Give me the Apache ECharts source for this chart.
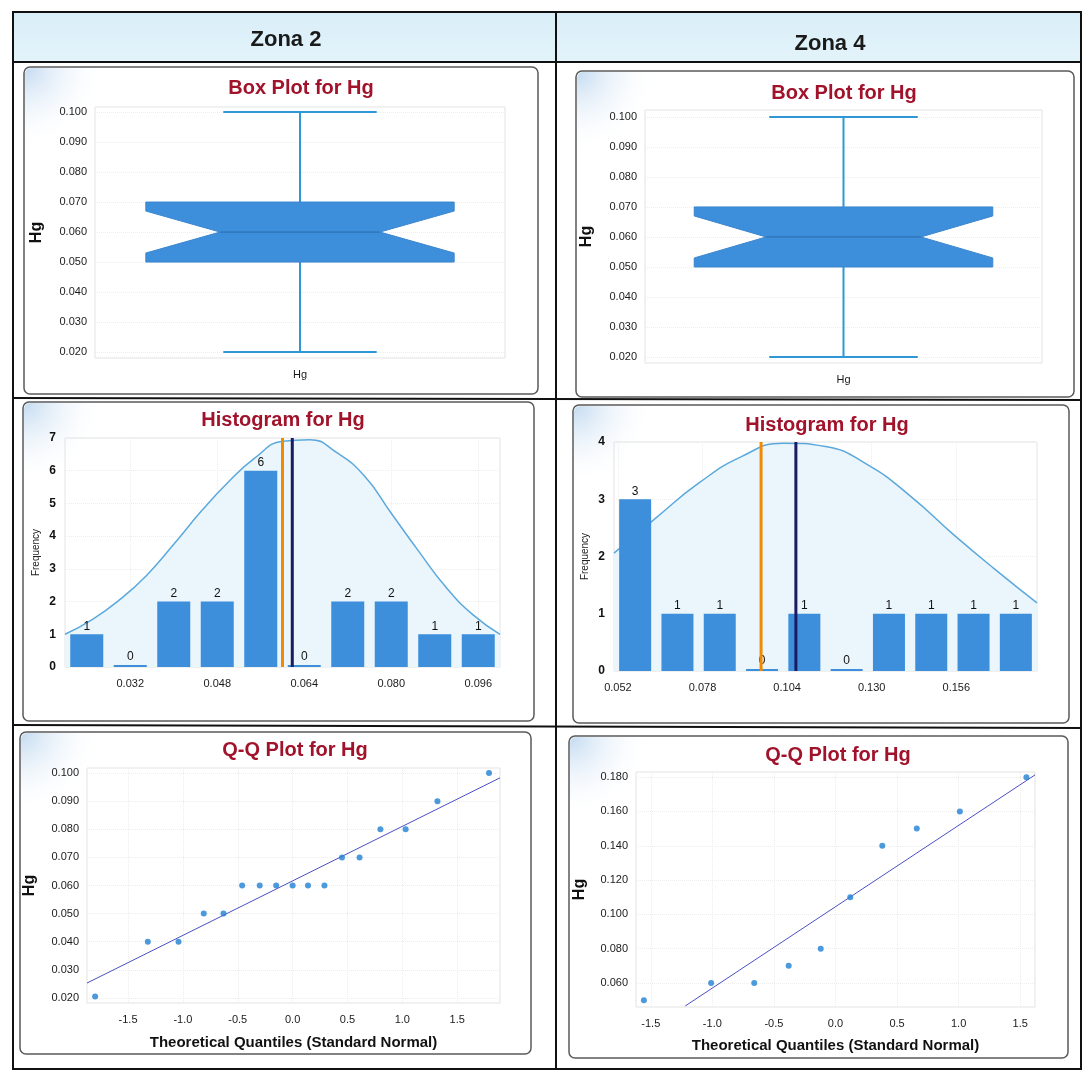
<!DOCTYPE html>
<html>
<head>
<meta charset="utf-8">
<script src="https://cdn.jsdelivr.net/npm/echarts@6/dist/echarts.min.js"></script>
<style>
  html, body { margin: 0; padding: 0; background: #fff; }
  #c { width: 1083px; height: 1074px; }
</style>
</head>
<body>
<div id="c"></div>
<script>
// ---------------- DATA ----------------
const zoneNames = ['Zona 2', 'Zona 4'];
const boxTitle = 'Box Plot for Hg';
const histTitle = 'Histogram for Hg';
const qqTitle = 'Q-Q Plot for Hg';

// box: [min, q1, notchLow, median, notchHigh, q3, max]
const boxZ2 = [0.020, 0.050, 0.053, 0.060, 0.067, 0.070, 0.100];
const boxZ4 = [0.020, 0.050, 0.053, 0.060, 0.067, 0.070, 0.100];
const boxTicks = [0.020, 0.030, 0.040, 0.050, 0.060, 0.070, 0.080, 0.090, 0.100];

// histogram Zona 2
const histZ2Centers = [0.024, 0.032, 0.040, 0.048, 0.056, 0.064, 0.072, 0.080, 0.088, 0.096];
const histZ2Counts  = [1, 0, 2, 2, 6, 0, 2, 2, 1, 1];
const histZ2Ticks   = [0.032, 0.048, 0.064, 0.080, 0.096];
const histZ2CurveX  = [0.020, 0.025, 0.030, 0.035, 0.040, 0.045, 0.050, 0.055, 0.060, 0.065, 0.070, 0.075, 0.080, 0.085, 0.090, 0.095, 0.100];
const histZ2CurveY  = [1.0, 1.45, 2.05, 2.8, 3.75, 4.75, 5.65, 6.4, 6.9, 6.95, 6.55, 5.85, 4.7, 3.55, 2.45, 1.6, 1.0];
const histZ2Median = 0.060;
const histZ2Mean = 0.0618;

// histogram Zona 4
const histZ4Centers = [0.0573, 0.0703, 0.0833, 0.0963, 0.1093, 0.1223, 0.1353, 0.1483, 0.1613, 0.1743];
const histZ4Counts  = [3, 1, 1, 0, 1, 0, 1, 1, 1, 1];
const histZ4Ticks   = [0.052, 0.078, 0.104, 0.130, 0.156];
const histZ4CurveX  = [0.0508, 0.0638, 0.0768, 0.0898, 0.1028, 0.1158, 0.1288, 0.1418, 0.1548, 0.1678, 0.1808];
const histZ4CurveY  = [2.06, 2.68, 3.28, 3.74, 3.98, 3.92, 3.6, 3.06, 2.4, 1.78, 1.19];
const histZ4Median = 0.096;
const histZ4Mean = 0.1067;

// Q-Q Zona 2
const qqZ2X = [-1.80, -1.32, -1.04, -0.81, -0.63, -0.46, -0.30, -0.15, 0.00, 0.14, 0.29, 0.45, 0.61, 0.80, 1.03, 1.32, 1.79];
const qqZ2Y = [0.0205, 0.040, 0.040, 0.050, 0.050, 0.060, 0.060, 0.060, 0.060, 0.060, 0.060, 0.070, 0.070, 0.080, 0.080, 0.090, 0.100];
const qqZ2Line = [[-1.874, 0.0253], [1.89, 0.0983]];
const qqZ2YTicks = [0.020, 0.030, 0.040, 0.050, 0.060, 0.070, 0.080, 0.090, 0.100];

// Q-Q Zona 4
const qqZ4X = [-1.556, -1.01, -0.66, -0.38, -0.12, 0.12, 0.38, 0.66, 1.01, 1.55];
const qqZ4Y = [0.050, 0.060, 0.060, 0.070, 0.080, 0.110, 0.140, 0.150, 0.160, 0.180];
const qqZ4Line = [[-1.22, 0.0466], [1.62, 0.1813]];
const qqZ4YTicks = [0.060, 0.080, 0.100, 0.120, 0.140, 0.160, 0.180];

const qqXTicks = [-1.5, -1.0, -0.5, 0.0, 0.5, 1.0, 1.5];

// ---------------- STYLE ----------------
function hasFont(name) {
  const c = document.createElement('canvas').getContext('2d');
  c.font = '20px monospace';
  const w1 = c.measureText('0.100 abcdefgHQ').width;
  c.font = '20px "' + name + '", monospace';
  return c.measureText('0.100 abcdefgHQ').width !== w1;
}
const NARROW = hasFont('Liberation Sans Narrow');
const tickFamily = NARROW ? '"Liberation Sans Narrow"' : '"Liberation Sans", Arial, sans-serif';
const tickSize = NARROW ? 13 : 11;
const MAIN = '"Liberation Sans", Arial, sans-serif';

const BLUE = '#3d8edb';
const WHISK = '#2e97d6';
const TITLE_RED = '#a1122b';
const GRIDLINE = { show: true, lineStyle: { color: '#ededed', type: 'dotted', width: 1 } };

const tickLabel = (extra) => Object.assign({
  fontFamily: tickFamily, fontSize: tickSize, color: '#1a1a1a'
}, extra || {});

const grids = [
  { left: 95,  top: 107, width: 410, height: 251 },
  { left: 645, top: 110, width: 397, height: 253 },
  { left: 65,  top: 438, width: 435, height: 229 },
  { left: 614, top: 442, width: 423, height: 229 },
  { left: 87,  top: 768, width: 413, height: 235 },
  { left: 636, top: 772, width: 399, height: 235 }
].map(g => Object.assign({ show: true, borderColor: '#e3e3e3', borderWidth: 1, containLabel: false }, g));

function fmt3(v) { return (+v).toFixed(3); }

function boxYAxis(gi, min, max) {
  return {
    type: 'value', gridIndex: gi, min: min, max: max,
    name: 'Hg', nameLocation: 'middle', nameGap: 50, nameRotate: 90,
    nameTextStyle: { fontFamily: MAIN, fontSize: 16, fontWeight: 'bold', color: '#111' },
    axisLine: { show: false }, axisTick: { show: false, customValues: boxTicks },
    axisLabel: tickLabel({ customValues: boxTicks, formatter: fmt3, margin: 8 }),
    splitLine: GRIDLINE
  };
}

function boxRender(params, api) {
  const ci = api.value(0);
  const y = (val) => api.coord([ci, val])[1];
  const cx = api.coord([ci, api.value(1)])[0];
  const band = api.size([1, 0])[0];
  const yMin = y(api.value(1)), yQ1 = y(api.value(2)), yNL = y(api.value(3)),
        yMed = y(api.value(4)), yNH = y(api.value(5)), yQ3 = y(api.value(6)), yMax = y(api.value(7));
  const bh = band * 0.376, ch = band * 0.187, nh = band * 0.195;
  const ls = { stroke: WHISK, lineWidth: 2 };
  return {
    type: 'group',
    children: [
      { type: 'line', shape: { x1: cx, y1: yQ3, x2: cx, y2: yMax }, style: ls },
      { type: 'line', shape: { x1: cx, y1: yQ1, x2: cx, y2: yMin }, style: ls },
      { type: 'line', shape: { x1: cx - ch, y1: yMax, x2: cx + ch, y2: yMax }, style: ls },
      { type: 'line', shape: { x1: cx - ch, y1: yMin, x2: cx + ch, y2: yMin }, style: ls },
      { type: 'polygon', shape: { points: [
          [cx - bh, yQ3], [cx + bh, yQ3], [cx + bh, yNH], [cx + nh, yMed], [cx + bh, yNL],
          [cx + bh, yQ1], [cx - bh, yQ1], [cx - bh, yNL], [cx - nh, yMed], [cx - bh, yNH]
        ] }, style: { fill: BLUE, stroke: '#3a86cf', lineWidth: 1 } },
      { type: 'line', shape: { x1: cx - nh, y1: yMed, x2: cx + nh, y2: yMed }, style: { stroke: '#2b6aa8', lineWidth: 1 } }
    ]
  };
}

function zip(a, b) { return a.map((v, i) => [v, b[i]]); }

// ---------------- DECORATION (table + panels + titles) ----------------
const panels = [
  [24, 67, 514, 327],
  [576, 71, 498, 326],
  [23, 402, 511, 319],
  [573, 405, 496, 318],
  [20, 732, 511, 322],
  [569, 736, 499, 322]
];
const graphics = [];
graphics.push({ type: 'rect', z: -20, shape: { x: 13, y: 12, width: 1068, height: 50 },
  style: { fill: new echarts.graphic.LinearGradient(0, 0, 0, 1, [
    { offset: 0, color: '#d9eef8' }, { offset: 1, color: '#e3f3fa' }]) } });
panels.forEach(p => {
  graphics.push({ type: 'rect', z: -15, shape: { x: p[0], y: p[1], width: p[2], height: p[3], r: 6 },
    style: { fill: '#ffffff', stroke: '#5a5a5a', lineWidth: 1.5 } });
  graphics.push({ type: 'rect', z: -14, shape: { x: p[0] + 1, y: p[1] + 1, width: 150, height: 90, r: [6, 0, 0, 0] },
    style: { fill: new echarts.graphic.RadialGradient(0, 0, 0.9, [
      { offset: 0, color: 'rgba(185,212,238,0.85)' }, { offset: 1, color: 'rgba(255,255,255,0)' }]) } });
});
const T = { stroke: '#111', lineWidth: 2 };
graphics.push({ type: 'rect', z: -5, shape: { x: 13, y: 12, width: 1068, height: 1057 }, style: { fill: 'none', stroke: '#111', lineWidth: 2 } });
graphics.push({ type: 'line', z: -5, shape: { x1: 556, y1: 12, x2: 556, y2: 1069 }, style: T });
graphics.push({ type: 'line', z: -5, shape: { x1: 13, y1: 62, x2: 1081, y2: 62 }, style: T });
graphics.push({ type: 'line', z: -5, shape: { x1: 13, y1: 398, x2: 1081, y2: 400 }, style: T });
graphics.push({ type: 'line', z: -5, shape: { x1: 13, y1: 725, x2: 1081, y2: 728 }, style: T });

function txt(s, x, y, size, color, weight) {
  return { type: 'text', z: 10, x: x, y: y,
    style: { text: s, fill: color, font: (weight || 'bold') + ' ' + size + 'px ' + MAIN, align: 'center', verticalAlign: 'middle' } };
}
graphics.push(txt(zoneNames[0], 286, 40, 22, '#1a1a1a'));
graphics.push(txt(zoneNames[1], 830, 44, 22, '#1a1a1a'));
graphics.push(txt(boxTitle, 301, 88, 20, TITLE_RED));
graphics.push(txt(boxTitle, 844, 93, 20, TITLE_RED));
graphics.push(txt(histTitle, 283, 420, 20, TITLE_RED));
graphics.push(txt(histTitle, 827, 425, 20, TITLE_RED));
graphics.push(txt(qqTitle, 295, 750, 20, TITLE_RED));
graphics.push(txt(qqTitle, 838, 755, 20, TITLE_RED));

// ---------------- AXES ----------------
const xAxes = [
  { type: 'category', gridIndex: 0, data: ['Hg'], axisLine: { show: false }, axisTick: { show: false },
    axisLabel: tickLabel({ fontFamily: MAIN, fontSize: 11, margin: 11 }), splitLine: { show: false } },
  { type: 'category', gridIndex: 1, data: ['Hg'], axisLine: { show: false }, axisTick: { show: false },
    axisLabel: tickLabel({ fontFamily: MAIN, fontSize: 11, margin: 11 }), splitLine: { show: false } },
  { type: 'value', gridIndex: 2, min: 0.020, max: 0.100, axisLine: { show: false },
    axisTick: { show: false, customValues: histZ2Ticks },
    axisLabel: tickLabel({ customValues: histZ2Ticks, formatter: fmt3, margin: 11 }), splitLine: GRIDLINE },
  { type: 'value', gridIndex: 3, min: 0.0508, max: 0.1808, axisLine: { show: false },
    axisTick: { show: false, customValues: histZ4Ticks },
    axisLabel: tickLabel({ customValues: histZ4Ticks, formatter: fmt3, margin: 11 }), splitLine: GRIDLINE },
  { type: 'value', gridIndex: 4, min: -1.874, max: 1.89, axisLine: { show: false },
    axisTick: { show: false, customValues: qqXTicks },
    axisLabel: tickLabel({ customValues: qqXTicks, formatter: v => (+v).toFixed(1), margin: 11 }), splitLine: GRIDLINE,
    name: 'Theoretical Quantiles (Standard Normal)', nameLocation: 'middle', nameGap: 32,
    nameTextStyle: { fontFamily: MAIN, fontSize: 15, fontWeight: 'bold', color: '#111' } },
  { type: 'value', gridIndex: 5, min: -1.62, max: 1.62, axisLine: { show: false },
    axisTick: { show: false, customValues: qqXTicks },
    axisLabel: tickLabel({ customValues: qqXTicks, formatter: v => (+v).toFixed(1), margin: 11 }), splitLine: GRIDLINE,
    name: 'Theoretical Quantiles (Standard Normal)', nameLocation: 'middle', nameGap: 31,
    nameTextStyle: { fontFamily: MAIN, fontSize: 15, fontWeight: 'bold', color: '#111' } }
];

const freqName = { fontFamily: MAIN, fontSize: 10, color: '#222' };
const yAxes = [
  boxYAxis(0, 0.018, 0.1017),
  boxYAxis(1, 0.018, 0.1023),
  { type: 'value', gridIndex: 2, min: 0, max: 7, interval: 1, axisLine: { show: false }, axisTick: { show: false },
    axisLabel: { fontFamily: MAIN, fontSize: 12, fontWeight: 'bold', color: '#111', margin: 9 }, splitLine: GRIDLINE,
    name: 'Frequency', nameLocation: 'middle', nameGap: 24, nameRotate: 90, nameTextStyle: freqName },
  { type: 'value', gridIndex: 3, min: 0, max: 4, interval: 1, axisLine: { show: false }, axisTick: { show: false },
    axisLabel: { fontFamily: MAIN, fontSize: 12, fontWeight: 'bold', color: '#111', margin: 9 }, splitLine: GRIDLINE,
    name: 'Frequency', nameLocation: 'middle', nameGap: 24, nameRotate: 90, nameTextStyle: freqName },
  { type: 'value', gridIndex: 4, min: 0.0182, max: 0.1018, axisLine: { show: false },
    axisTick: { show: false, customValues: qqZ2YTicks },
    axisLabel: tickLabel({ customValues: qqZ2YTicks, formatter: fmt3, margin: 8 }), splitLine: GRIDLINE,
    name: 'Hg', nameLocation: 'middle', nameGap: 49, nameRotate: 90,
    nameTextStyle: { fontFamily: MAIN, fontSize: 16, fontWeight: 'bold', color: '#111' } },
  { type: 'value', gridIndex: 5, min: 0.046, max: 0.183, axisLine: { show: false },
    axisTick: { show: false, customValues: qqZ4YTicks },
    axisLabel: tickLabel({ customValues: qqZ4YTicks, formatter: fmt3, margin: 8 }), splitLine: GRIDLINE,
    name: 'Hg', nameLocation: 'middle', nameGap: 48, nameRotate: 90,
    nameTextStyle: { fontFamily: MAIN, fontSize: 16, fontWeight: 'bold', color: '#111' } }
];

// ---------------- SERIES ----------------
function histSeries(ai, centers, counts, cx, cy, median, mean, ymax, barW) {
  return [
    { type: 'line', xAxisIndex: ai, yAxisIndex: ai, data: zip(cx, cy), smooth: 0.5, symbol: 'none', z: 1,
      lineStyle: { color: '#5ba9dc', width: 1.5 }, areaStyle: { color: '#eaf5fc', opacity: 1 }, silent: true },
    { type: 'bar', xAxisIndex: ai, yAxisIndex: ai, data: zip(centers, counts), barWidth: barW, barMinHeight: 2, z: 3,
      itemStyle: { color: BLUE },
      label: { show: true, position: 'top', distance: 2, formatter: p => p.value[1],
        fontFamily: MAIN, fontSize: 12, color: '#111' } },
    { type: 'line', xAxisIndex: ai, yAxisIndex: ai, data: [[median, 0], [median, ymax]], symbol: 'none', z: 4,
      lineStyle: { color: '#f28a00', width: 3 }, silent: true },
    { type: 'line', xAxisIndex: ai, yAxisIndex: ai, data: [[mean, 0], [mean, ymax]], symbol: 'none', z: 4,
      lineStyle: { color: '#1b1b62', width: 3 }, silent: true }
  ];
}

function qqSeries(ai, xs, ys, line) {
  return [
    { type: 'line', xAxisIndex: ai, yAxisIndex: ai, data: line, symbol: 'none', z: 2,
      lineStyle: { color: '#4b4fc4', width: 1 }, silent: true },
    { type: 'scatter', xAxisIndex: ai, yAxisIndex: ai, data: zip(xs, ys), symbolSize: 6, z: 3,
      itemStyle: { color: '#1f7fd3' } }
  ];
}

const series = [
  { type: 'custom', xAxisIndex: 0, yAxisIndex: 0, renderItem: boxRender,
    encode: { x: 0, y: [1, 2, 3, 4, 5, 6, 7] }, data: [[0].concat(boxZ2)] },
  { type: 'custom', xAxisIndex: 1, yAxisIndex: 1, renderItem: boxRender,
    encode: { x: 0, y: [1, 2, 3, 4, 5, 6, 7] }, data: [[0].concat(boxZ4)] }
]
  .concat(histSeries(2, histZ2Centers, histZ2Counts, histZ2CurveX, histZ2CurveY, histZ2Median, histZ2Mean, 7, 33))
  .concat(histSeries(3, histZ4Centers, histZ4Counts, histZ4CurveX, histZ4CurveY, histZ4Median, histZ4Mean, 4, 32))
  .concat(qqSeries(4, qqZ2X, qqZ2Y, qqZ2Line))
  .concat(qqSeries(5, qqZ4X, qqZ4Y, qqZ4Line));

const chart = echarts.init(document.getElementById('c'), null, { renderer: 'canvas' });
chart.setOption({
  animation: false,
  backgroundColor: '#ffffff',
  graphic: { elements: graphics },
  grid: grids,
  xAxis: xAxes,
  yAxis: yAxes,
  series: series
});
</script>
</body>
</html>
